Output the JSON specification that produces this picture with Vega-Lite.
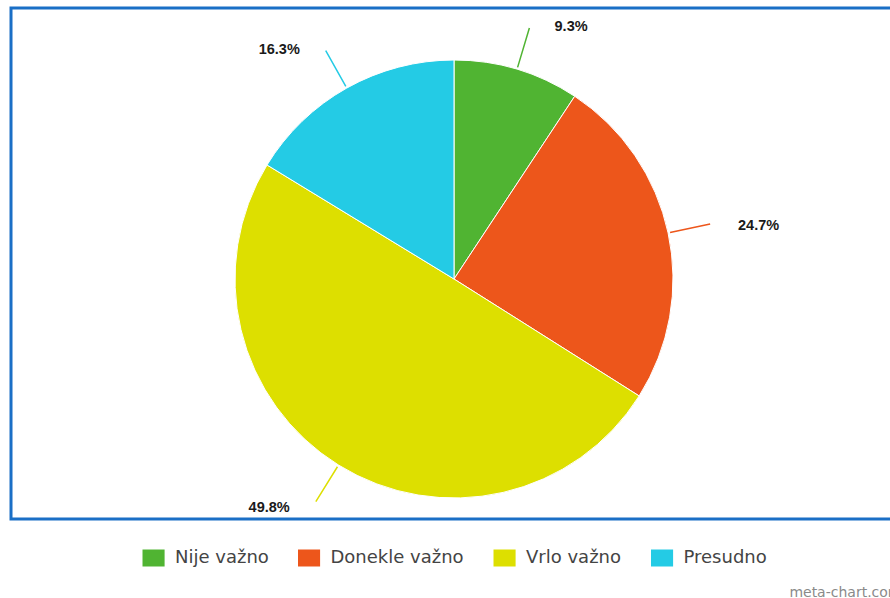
{
  "$schema": "https://vega.github.io/schema/vega-lite/v6.json",
  "width": 879,
  "height": 511,
  "autosize": {"type": "none"},
  "padding": {"left": 11, "top": 8, "right": 0, "bottom": 79},
  "background": "white",
  "title": {
    "text": "meta-chart.com",
    "orient": "bottom",
    "anchor": "end",
    "font": "DejaVu Sans",
    "fontSize": 14,
    "fontWeight": "normal",
    "color": "#8a8a8a",
    "baseline": "middle",
    "offset": 26,
    "dx": 4
  },
  "data": {
    "values": [
      {"category": "Nije važno", "value": 9.3, "label": "9.3%", "order": 1},
      {"category": "Donekle važno", "value": 24.7, "label": "24.7%", "order": 2},
      {"category": "Vrlo važno", "value": 49.8, "label": "49.8%", "order": 3},
      {"category": "Presudno", "value": 16.3, "label": "16.3%", "order": 4}
    ]
  },
  "layer": [
    {
      "data": {"values": [{"frame": "border"}]},
      "mark": {"type": "rect", "fill": "transparent", "stroke": "#1a6fc6", "strokeWidth": 3, "x2Offset": 6},
      "encoding": {
        "x": {"value": 0},
        "x2": {"value": "width"},
        "y": {"value": 0},
        "y2": {"value": "height"}
      }
    },
    {
      "encoding": {
        "theta": {"field": "value", "type": "quantitative", "stack": true},
        "order": {"field": "order", "type": "quantitative"},
        "detail": {"field": "category", "type": "nominal"}
      },
      "layer": [
        {
          "mark": {"type": "arc", "outerRadius": 219, "stroke": "white", "strokeWidth": 1, "xOffset": 3.5, "yOffset": 15.5},
          "encoding": {
            "color": {
              "field": "category",
              "type": "nominal",
              "scale": {
                "domain": ["Nije važno", "Donekle važno", "Vrlo važno", "Presudno"],
                "range": ["#50B432", "#ED561B", "#DDDF00", "#24CBE5"]
              },
              "legend": {
                "orient": "none",
                "legendX": 131,
                "legendY": 541,
                "direction": "horizontal",
                "title": null,
                "symbolType": "M-1,-1H1.6V1H-1Z",
                "symbolSize": 289,
                "symbolStrokeWidth": 0,
                "labelFont": "DejaVu Sans",
                "labelFontSize": 18,
                "labelColor": "#444444",
                "labelOffset": 15,
                "columnPadding": 28.5,
                "padding": 0,
                "labelLimit": 300
              }
            }
          }
        },
        {
          "mark": {"type": "arc", "innerRadius": 221, "outerRadius": 262, "padAngle": 3, "filled": false, "strokeWidth": 1.5, "xOffset": 3.5, "yOffset": 15.5},
          "encoding": {
            "stroke": {
              "field": "category",
              "type": "nominal",
              "scale": {
                "domain": ["Nije važno", "Donekle važno", "Vrlo važno", "Presudno"],
                "range": ["#50B432", "#ED561B", "#DDDF00", "#24CBE5"]
              },
              "legend": null
            }
          }
        },
        {
          "mark": {
            "type": "text",
            "radius": 266,
            "xOffset": 3.5,
            "yOffset": 15.5,
            "font": "Liberation Sans",
            "fontWeight": "bold",
            "fontSize": 14.5,
            "baseline": "middle",
            "dy": 3,
            "align": {"expr": "datum.value_start + datum.value_end > 100 ? 'right' : 'left'"},
            "dx": {"expr": "datum.value_start + datum.value_end > 100 ? -24 : 24"}
          },
          "encoding": {
            "text": {"field": "label", "type": "nominal"},
            "color": {"value": "#1a1a1a"}
          }
        }
      ]
    }
  ]
}
